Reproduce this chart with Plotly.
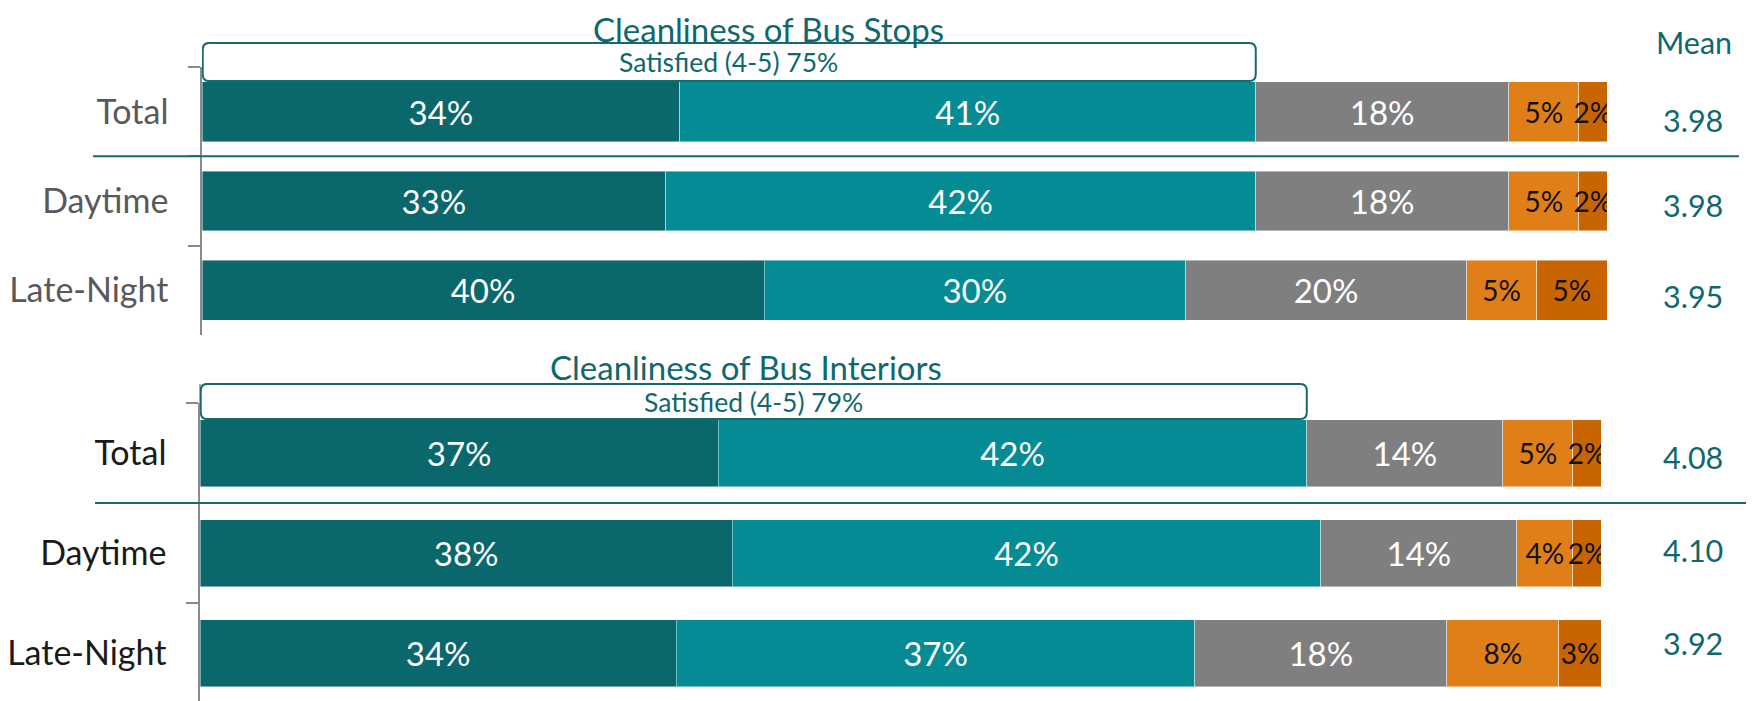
import plotly.graph_objects as go

# ---------------- data ----------------
categories = ["Total", "Daytime", "Late-Night"]
segment_names = ["Very satisfied (5)", "Satisfied (4)", "Neutral (3)", "Dissatisfied (2)", "Very dissatisfied (1)"]

stops_vs = [34, 33, 40]
stops_s = [41, 42, 30]
stops_n = [18, 18, 20]
stops_d = [5, 5, 5]
stops_vd = [2, 2, 5]
stops_mean = [3.98, 3.98, 3.95]
stops_satisfied = 75

int_vs = [37, 38, 34]
int_s = [42, 42, 37]
int_n = [14, 14, 18]
int_d = [5, 4, 8]
int_vd = [2, 2, 3]
int_mean = [4.08, 4.10, 3.92]
int_satisfied = 79

titles = ["Cleanliness of Bus Stops", "Cleanliness of Bus Interiors"]
mean_header = "Mean"

# ---------------- style ----------------
OFF = 8                      # page body margin
W, H = 1754 - OFF, 701 - OFF
FONT = "Lato"
TEAL_TXT = "#0e686d"
colors = ["#0a676c", "#058b93", "#7f7f7f", "#e07f17", "#c96500"]
txt_colors = ["white", "white", "white", "#111111", "#111111"]
txt_sizes = [33, 33, 33, 28, 28]
AXIS_GREY = "#8a8a8a"


def px_y(p):
    return 1 - (p - OFF) / H


def px_x(p):
    return (p - OFF) / W


fig = go.Figure()

panels = [
    dict(series=[stops_vs, stops_s, stops_n, stops_d, stops_vd], xa="x", ya="y",
         mean=stops_mean, sat=stops_satisfied, mean_shift=[-8, -4, -6]),
    dict(series=[int_vs, int_s, int_n, int_d, int_vd], xa="x2", ya="y2",
         mean=int_mean, sat=int_satisfied, mean_shift=[-4, 3, 10]),
]

for pnl in panels:
    for i, vals in enumerate(pnl["series"]):
        fig.add_trace(go.Bar(
            x=vals, y=categories, orientation="h",
            name=segment_names[i],
            marker=dict(color=colors[i], line=dict(color="rgba(255,255,255,0.55)", width=0.8)),
            text=[f"{v}%" for v in vals],
            textposition="inside", insidetextanchor="middle", constraintext="none", textangle=0,
            textfont=dict(family=FONT, size=txt_sizes[i], color=txt_colors[i]),
            xaxis=pnl["xa"], yaxis=pnl["ya"], showlegend=False, hoverinfo="skip",
        ))

yaxis_common = dict(
    type="category", categoryorder="array", categoryarray=categories,
    showline=True, linecolor=AXIS_GREY, linewidth=1.5,
    ticks="outside", tickson="boundaries", ticklen=12, tickcolor=AXIS_GREY, tickwidth=1.5,
    showgrid=False, zeroline=False, ticklabelstandoff=25,
)

fig.update_layout(
    width=W, height=H,
    margin=dict(l=0, r=0, t=0, b=0),
    paper_bgcolor="white", plot_bgcolor="white",
    barmode="stack", bargap=0.33,
    font=dict(family=FONT),
    xaxis=dict(domain=[px_x(202), px_x(1607)], range=[0, 100], visible=False, anchor="y"),
    yaxis=dict(domain=[px_y(335), px_y(67)], range=[2.5, -0.5], anchor="x",
               tickfont=dict(family=FONT, size=34, color="#595959"), **yaxis_common),
    xaxis2=dict(domain=[px_x(200), px_x(1601)], range=[0, 100], visible=False, anchor="y2"),
    yaxis2=dict(domain=[0, px_y(403)], range=[2.48, -0.5], anchor="x2",
                tickfont=dict(family=FONT, size=34, color="#1a1a1a"), **yaxis_common),
)

shapes = []
annotations = []


def rounded_box(x0, x1, y0, y1, rx, ry):
    return (f"M {x0 + rx},{y1} L {x1 - rx},{y1} Q {x1},{y1} {x1},{y1 - ry} "
            f"L {x1},{y0 + ry} Q {x1},{y0} {x1 - rx},{y0} "
            f"L {x0 + rx},{y0} Q {x0},{y0} {x0},{y0 + ry} "
            f"L {x0},{y1 - ry} Q {x0},{y1} {x0 + rx},{y1} Z")


# satisfied boxes (px top, px bottom, text y)
box_geo = [(43, 81, 62), (384, 419, 402)]
title_geo = [(768, 26), (746, 366)]

for k, pnl in enumerate(panels):
    top, bot, ty = box_geo[k]
    shapes.append(dict(
        type="path", xref=pnl["xa"], yref="paper",
        path=rounded_box(0.05, pnl["sat"], px_y(bot), px_y(top), 0.45, 7 / H),
        line=dict(color="#17696e", width=2), fillcolor="white", layer="above",
    ))
    annotations.append(dict(
        x=pnl["sat"] / 2, y=px_y(ty), xref=pnl["xa"], yref="paper",
        text=f"Satisfied (4-5) {pnl['sat']}%", showarrow=False,
        font=dict(family=FONT, size=26.5, color=TEAL_TXT), xanchor="center", yanchor="middle",
    ))
    tx, tyy = title_geo[k]
    annotations.append(dict(
        x=px_x(tx), y=min(1.0, px_y(tyy - 20)), xref="paper", yref="paper", text=titles[k],
        showarrow=False, borderpad=0,
        font=dict(family=FONT, size=33, color=TEAL_TXT), xanchor="center", yanchor="top",
    ))
    for c, m, sh in zip(categories, pnl["mean"], pnl["mean_shift"]):
        annotations.append(dict(
            x=px_x(1693), y=c, xref="paper", yref=pnl["ya"], text=f"{m:.2f}", showarrow=False,
            yshift=sh,
            font=dict(family=FONT, size=30.5, color=TEAL_TXT), xanchor="center", yanchor="middle",
        ))

annotations.append(dict(
    x=px_x(1694), y=px_y(42), xref="paper", yref="paper", text=mean_header, showarrow=False,
    font=dict(family=FONT, size=30.5, color=TEAL_TXT), xanchor="center", yanchor="middle",
))

# separators between Total and subgroups
shapes.append(dict(type="line", xref="paper", yref="y", x0=px_x(93), x1=px_x(1739), y0=0.5, y1=0.5,
                   line=dict(color="#17696e", width=2), layer="above"))
shapes.append(dict(type="line", xref="paper", yref="y2", x0=px_x(95), x1=1.0, y0=0.5, y1=0.5,
                   line=dict(color="#17696e", width=2), layer="above"))
# bottom axis line extension up to the satisfied box
shapes.append(dict(type="line", xref="x2 domain", yref="paper", x0=0, x1=0, y0=px_y(403), y1=px_y(384),
                   line=dict(color=AXIS_GREY, width=1.5), layer="below"))

fig.update_layout(shapes=shapes, annotations=annotations)
fig.write_html("out.html")
